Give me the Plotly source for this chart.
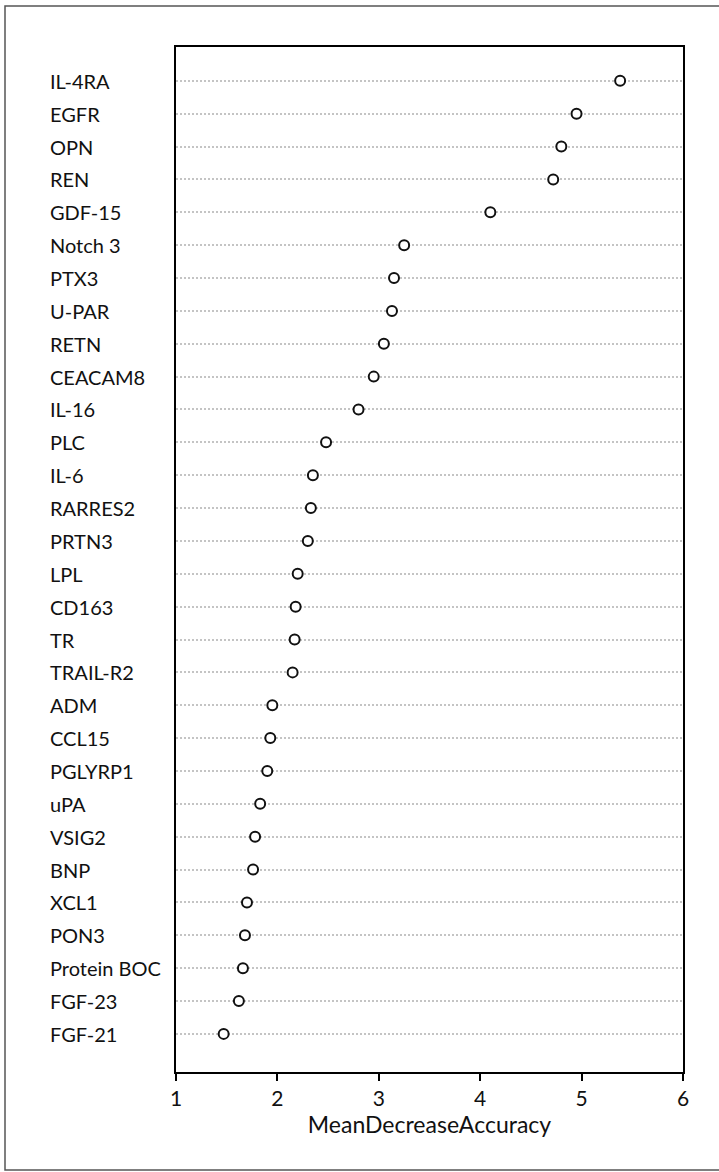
import plotly.graph_objects as go

# Variable importance (random forest), listed from most to least important
features = [
    "IL-4RA", "EGFR", "OPN", "REN", "GDF-15", "Notch 3", "PTX3", "U-PAR",
    "RETN", "CEACAM8", "IL-16", "PLC", "IL-6", "RARRES2", "PRTN3", "LPL",
    "CD163", "TR", "TRAIL-R2", "ADM", "CCL15", "PGLYRP1", "uPA", "VSIG2",
    "BNP", "XCL1", "PON3", "Protein BOC", "FGF-23", "FGF-21",
]
mean_decrease_accuracy = [
    5.38, 4.95, 4.80, 4.72, 4.10, 3.25, 3.15, 3.13,
    3.05, 2.95, 2.80, 2.48, 2.35, 2.33, 2.30, 2.20,
    2.18, 2.17, 2.15, 1.95, 1.93, 1.90, 1.83, 1.78,
    1.76, 1.70, 1.68, 1.66, 1.62, 1.47,
]
x_ticks = [1, 2, 3, 4, 5, 6]
x_title = "MeanDecreaseAccuracy"

# bottom-to-top order so the most important feature sits at the top
cats = features[::-1]
vals = mean_decrease_accuracy[::-1]

FONT = "Lato, 'Open Sans', sans-serif"
W, H = 719, 1172
ML, MR, MT, MB = 176, 36, 47, 100
plot_w = W - ML - MR
plot_h = H - MT - MB


def px_x(px):
    """Horizontal pixel position -> paper coordinate."""
    return (px - ML) / plot_w


def px_y(py):
    """Vertical pixel position (from top) -> paper coordinate."""
    return (H - MB - py) / plot_h


fig = go.Figure(
    go.Scatter(
        x=vals,
        y=cats,
        mode="markers",
        marker=dict(
            symbol="circle",
            size=10,
            color="white",
            line=dict(color="#111111", width=2),
        ),
        hoverinfo="x+y",
        showlegend=False,
        cliponaxis=False,
    )
)

# left-aligned feature names
for name in cats:
    fig.add_annotation(
        x=px_x(48),
        xref="paper",
        y=name,
        yref="y",
        text=name,
        showarrow=False,
        xanchor="left",
        yanchor="middle",
        font=dict(family=FONT, size=20, color="#111111"),
    )

# outer frame around the whole figure
fig.add_shape(
    type="rect",
    xref="paper",
    yref="paper",
    x0=px_x(5),
    x1=px_x(740),
    y0=px_y(1170),
    y1=px_y(6),
    line=dict(color="#555555", width=1.5),
    fillcolor="rgba(0,0,0,0)",
    layer="below",
)

fig.update_layout(
    width=W,
    height=H,
    margin=dict(l=ML, r=MR, t=MT, b=MB, pad=0),
    paper_bgcolor="white",
    plot_bgcolor="white",
    font=dict(family=FONT, size=20, color="#111111"),
    xaxis=dict(
        range=[1, 6],
        tickvals=x_ticks,
        ticktext=[str(t) for t in x_ticks],
        ticks="outside",
        ticklen=7,
        tickwidth=2,
        tickcolor="black",
        tickfont=dict(family=FONT, size=21, color="#111111"),
        showline=True,
        linecolor="black",
        linewidth=2,
        mirror=True,
        showgrid=False,
        zeroline=False,
        title=dict(
            text=x_title,
            font=dict(family=FONT, size=23, color="#111111"),
            standoff=8,
        ),
    ),
    yaxis=dict(
        type="category",
        categoryorder="array",
        categoryarray=cats,
        range=[-1.16, len(cats) - 1 + 1.03],
        showticklabels=False,
        ticks="",
        showline=True,
        linecolor="black",
        linewidth=2,
        mirror=True,
        showgrid=True,
        gridcolor="#c4c4c4",
        gridwidth=1.5,
        griddash="2px,2px",
        zeroline=False,
    ),
)

fig.write_html("out.html")
